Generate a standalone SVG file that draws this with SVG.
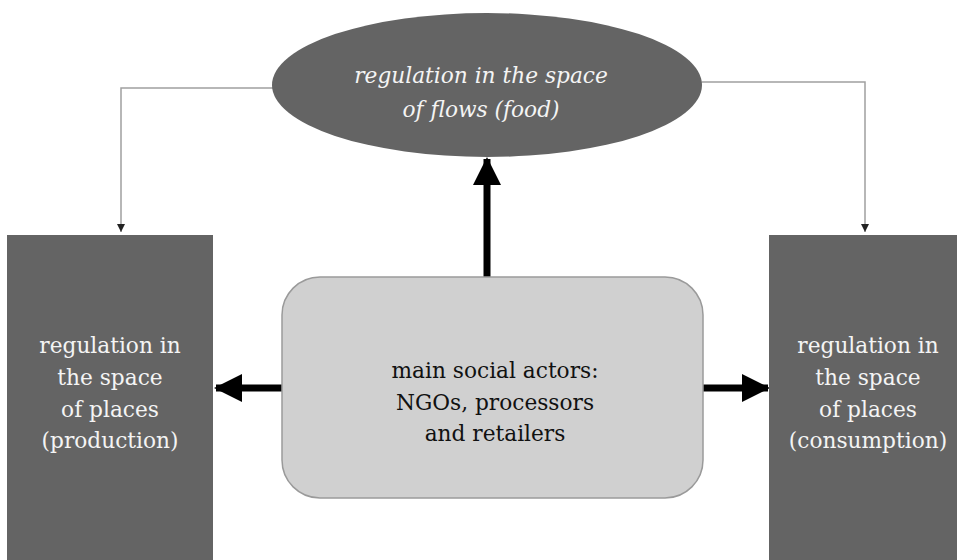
<svg xmlns="http://www.w3.org/2000/svg" width="964" height="560" viewBox="0 0 964 560">
  <defs>
    <marker id="thin-head" viewBox="0 0 10 10" refX="10" refY="5" markerWidth="8" markerHeight="8" markerUnits="userSpaceOnUse" orient="auto">
      <path d="M0,0 L10,5 L0,10 z" fill="#222"/>
    </marker>
    <marker id="bold-head" viewBox="0 0 28 28" refX="26" refY="14" markerWidth="28" markerHeight="28" markerUnits="userSpaceOnUse" orient="auto">
      <path d="M0,0 L28,14 L0,28 z" fill="#000"/>
    </marker>
    <style>
      .dark { fill: #646464; }
      .light { fill: #d0d0d0; stroke: #9a9a9a; stroke-width: 1.5; }
      .thin { fill: none; stroke: #a0a0a0; stroke-width: 1.5; }
      .bold { fill: none; stroke: #000; stroke-width: 7; }
      .lbl { font-family: "DejaVu Serif", "Liberation Serif", serif; font-size: 21.7px; text-anchor: middle; }
      .white { fill: #f4f4f4; }
      .black { fill: #111; }
    </style>
  </defs>

  <rect width="964" height="560" fill="#ffffff"/>

  <g id="connectors">
    <path class="thin" d="M273,88 H121 V232" marker-end="url(#thin-head)"/>
    <path class="thin" d="M702,82 H865 V232" marker-end="url(#thin-head)"/>
    <path class="bold" d="M487,277 V159" marker-end="url(#bold-head)"/>
    <path class="bold" d="M282,388 H216" marker-end="url(#bold-head)"/>
    <path class="bold" d="M703,388 H768" marker-end="url(#bold-head)"/>
  </g>

  <g id="flows">
    <ellipse class="dark" cx="487" cy="85" rx="215" ry="72"/>
    <text class="lbl white" font-style="italic" x="481" y="83">regulation in the space</text>
    <text class="lbl white" font-style="italic" x="481" y="117">of flows (food)</text>
  </g>

  <g id="production">
    <rect class="dark" x="7" y="235" width="206" height="325"/>
    <text class="lbl white" x="110" y="353">regulation in</text>
    <text class="lbl white" x="110" y="385">the space</text>
    <text class="lbl white" x="110" y="417">of places</text>
    <text class="lbl white" x="110" y="448">(production)</text>
  </g>

  <g id="consumption">
    <rect class="dark" x="769" y="235" width="188" height="325"/>
    <text class="lbl white" x="868" y="353">regulation in</text>
    <text class="lbl white" x="868" y="385">the space</text>
    <text class="lbl white" x="868" y="417">of places</text>
    <text class="lbl white" x="868" y="448">(consumption)</text>
  </g>

  <g id="actors">
    <rect class="light" x="282" y="277" width="421" height="221" rx="38" ry="38"/>
    <text class="lbl black" x="495" y="378">main social actors:</text>
    <text class="lbl black" x="495" y="410">NGOs, processors</text>
    <text class="lbl black" x="495" y="441">and retailers</text>
  </g>
</svg>
